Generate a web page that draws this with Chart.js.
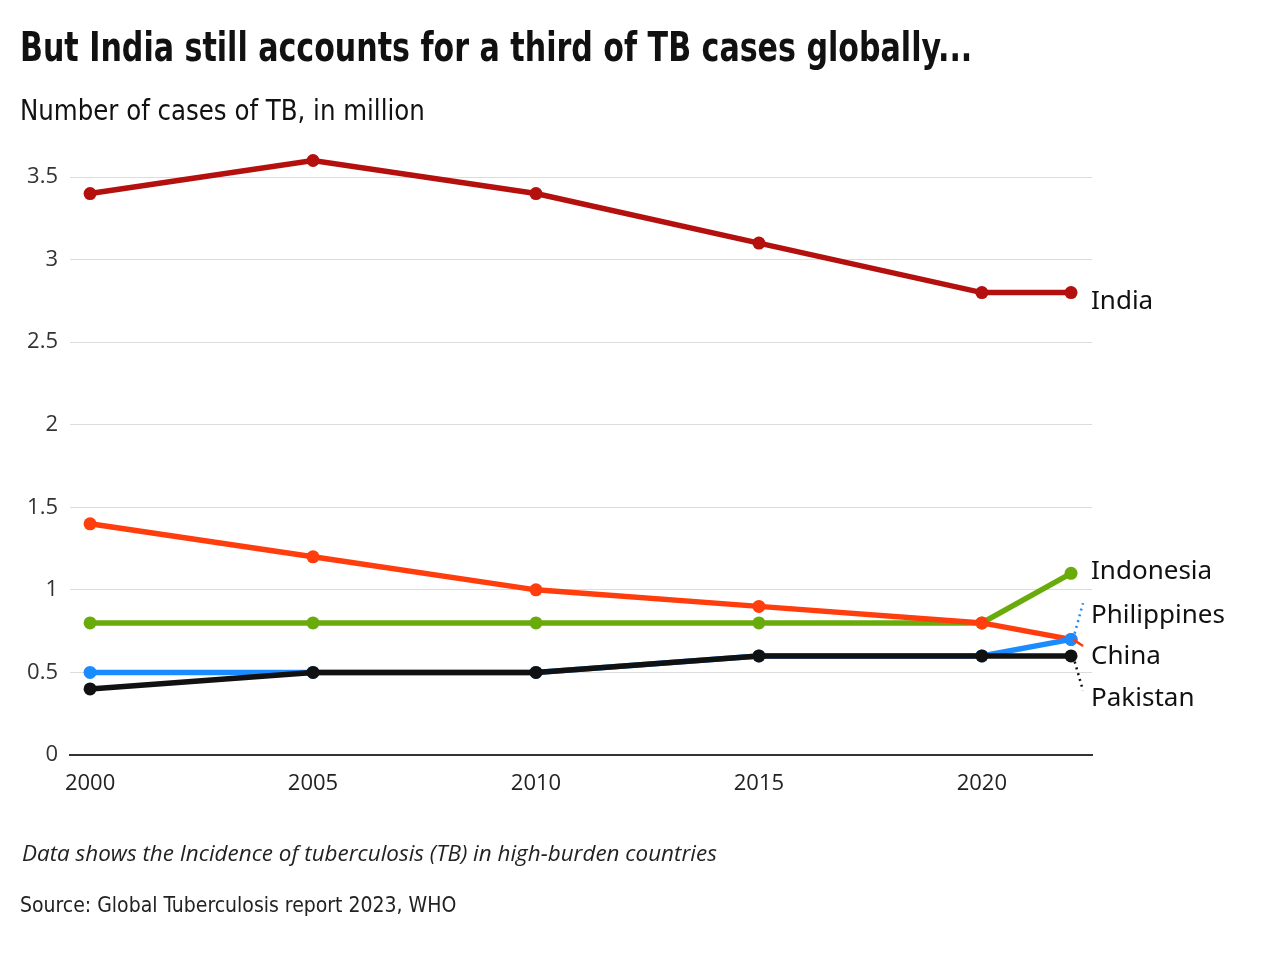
<!DOCTYPE html>
<html>
<head>
<meta charset="utf-8">
<script src="https://cdn.jsdelivr.net/npm/chart.js@4.4.0/dist/chart.umd.min.js"></script>
<style>
  html, body { margin: 0; padding: 0; background: #fff; }
  #wrap { position: relative; width: 1270px; height: 960px; overflow: hidden; }
  #myChart { position: absolute; left: 0; top: 0; }
  .txt { position: absolute; left: 20px; color: #111; white-space: nowrap; }
  #title { top: 23px; font-family: "DejaVu Sans Condensed", sans-serif; font-weight: bold; font-size: 41px; transform: scaleX(0.816); transform-origin: left top; }
  #subtitle { top: 94px; font-family: "DejaVu Sans Condensed", sans-serif; font-size: 27.5px; transform: scaleX(0.99); transform-origin: left top; }
  #note { top: 837px; left: 22px; font-family: "Open Sans", sans-serif; font-style: italic; font-size: 22px; color: #222; transform: scaleX(1.02); transform-origin: left top; }
  #source { top: 893px; font-family: "DejaVu Sans Condensed", sans-serif; font-size: 21px; color: #222; }
</style>
</head>
<body>
<div id="wrap">
  <canvas id="myChart" width="1270" height="960"></canvas>
  <div class="txt" id="title">But India still accounts for a third of TB cases globally...</div>
  <div class="txt" id="subtitle">Number of cases of TB, in million</div>
  <div class="txt" id="note">Data shows the Incidence of tuberculosis (TB) in high-burden countries</div>
  <div class="txt" id="source">Source: Global Tuberculosis report 2023, WHO</div>
</div>
<script>
// 데이터 (million cases)
const years = [2000, 2005, 2010, 2015, 2020, 2022];
const india = [3.4, 3.6, 3.4, 3.1, 2.8, 2.8];
const china = [1.4, 1.2, 1.0, 0.9, 0.8, 0.7];
const indonesia = [0.8, 0.8, 0.8, 0.8, 0.8, 1.1];
const philippines = [0.5, 0.5, 0.5, 0.6, 0.6, 0.7];
const pakistan = [0.4, 0.5, 0.5, 0.6, 0.6, 0.6];

const xTicks = [2000, 2005, 2010, 2015, 2020];
const yTicks = [0, 0.5, 1, 1.5, 2, 2.5, 3, 3.5];

const toPoints = (arr) => arr.map((v, i) => ({ x: years[i], y: v }));

function series(label, arr, color) {
  return {
    label: label,
    data: toPoints(arr),
    borderColor: color,
    backgroundColor: color,
    pointBackgroundColor: color,
    pointBorderColor: color,
    borderWidth: 5.5,
    pointRadius: 6.5,
    pointBorderWidth: 0,
    tension: 0,
  };
}

// 오른쪽 라벨 (value units for y-position)
const endLabels = [
  { text: "India", y: 2.76, color: "#b3100e" },
  { text: "Indonesia", y: 1.12, color: "#6aab0c" },
  { text: "Philippines", y: 0.855, color: "#1a8cff", lead: [0.7, 0.92], dash: true },
  { text: "China", y: 0.605, color: "#ff3d0d", lead: [0.7, 0.66] },
  { text: "Pakistan", y: 0.355, color: "#111111", lead: [0.6, 0.39], dash: true },
];

const labelPlugin = {
  id: "endLabels",
  afterDatasetsDraw(chart) {
    const c = chart.ctx;
    const xs = chart.scales.x;
    const ys = chart.scales.y;
    const xLast = xs.getPixelForValue(years[years.length - 1]);
    c.save();
    endLabels.forEach((l) => {
      if (l.lead) {
        c.beginPath();
        c.strokeStyle = l.color;
        c.lineWidth = 2.5;
        c.setLineDash(l.dash ? [2, 4] : []);
        c.moveTo(xLast + 2, ys.getPixelForValue(l.lead[0]));
        c.lineTo(xLast + 12, ys.getPixelForValue(l.lead[1]));
        c.stroke();
      }
      c.setLineDash([]);
      c.fillStyle = "#111";
      c.font = "26px 'Noto Sans', sans-serif";
      c.textBaseline = "middle";
      c.textAlign = "left";
      c.fillText(l.text, xLast + 20, ys.getPixelForValue(l.y) + 2);
    });
    c.restore();
  },
};

const ctx = document.getElementById("myChart").getContext("2d");

const myChart = new Chart(ctx, {
  type: "line",
  data: {
    datasets: [
      series("Pakistan", pakistan, "#111111"),
      series("Philippines", philippines, "#1a8cff"),
      series("China", china, "#ff3d0d"),
      series("Indonesia", indonesia, "#6aab0c"),
      series("India", india, "#b3100e"),
    ],
  },
  options: {
    responsive: false,
    animation: false,
    layout: { padding: { left: 10, right: 178, top: 144, bottom: 145 } },
    plugins: {
      legend: { display: false },
      tooltip: { enabled: false },
    },
    scales: {
      x: {
        type: "linear",
        min: 1999.55,
        max: 2022.47,
        afterBuildTicks: (s) => { s.ticks = xTicks.map((v) => ({ value: v })); },
        afterFit: (s) => { s.height = 60; },
        grid: { display: false, drawTicks: false },
        border: { display: true, color: "#333", width: 2 },
        ticks: {
          padding: 16,
          color: "#222",
          font: { family: "'Open Sans', sans-serif", size: 22 },
          callback: (v) => String(v),
        },
      },
      y: {
        min: 0,
        max: 3.7,
        afterBuildTicks: (s) => { s.ticks = yTicks.map((v) => ({ value: v })); },
        afterFit: (s) => { s.width = 60; },
        grid: { color: "#dcdcdc", lineWidth: 1, drawTicks: false },
        border: { display: false },
        ticks: {
          padding: 12,
          color: "#333",
          font: { family: "'Open Sans', sans-serif", size: 22 },
          callback: (v) => String(v),
        },
      },
    },
  },
  plugins: [labelPlugin],
});
</script>
</body>
</html>
